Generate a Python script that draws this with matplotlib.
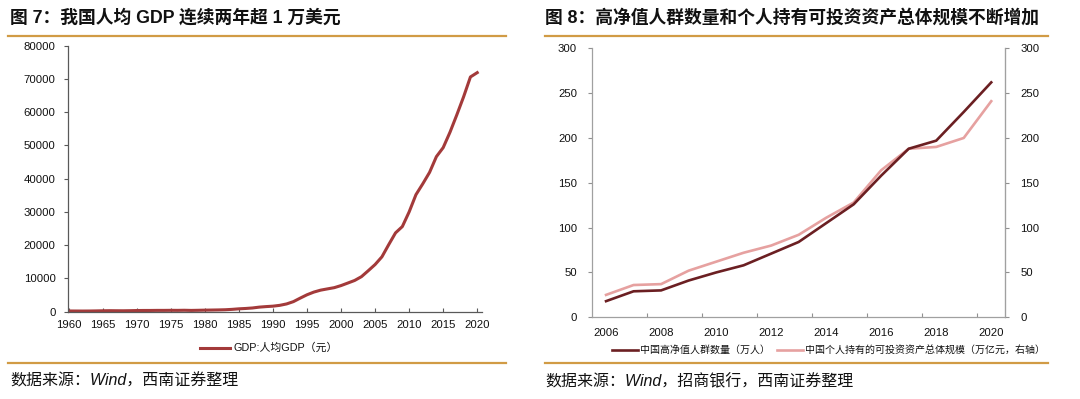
import matplotlib
matplotlib.use("Agg")
import matplotlib.pyplot as plt
from matplotlib.lines import Line2D
import numpy as np

plt.rcParams['font.family'] = ['Liberation Sans', 'Noto Sans CJK SC', 'DejaVu Sans']

# ---------------- data ----------------
gdp_years = list(range(1960, 2021))
gdp_per_capita = [218, 204, 196, 206, 236, 280, 306, 286, 276, 305,
                  349, 370, 373, 394, 394, 412, 401, 432, 385, 423,
                  468, 497, 533, 588, 702, 866, 973, 1123, 1378, 1536,
                  1663, 1912, 2334, 3027, 4081, 5091, 5898, 6481, 6860, 7229,
                  7858, 8622, 9398, 10542, 12336, 14185, 16500, 20169, 23708, 25608,
                  30015, 35198, 38459, 41908, 46629, 49351, 53980, 59201, 64644, 70600,
                  71900]
gdp_label = "GDP:人均GDP（元）"

hnw_years = list(range(2006, 2021))
hnw_count = [18, 29, 30, 41, 50, 58, 71, 84, 105, 126, 158, 188, 197, 229, 262]
invest_assets = [25, 36, 37, 52, 62, 72, 80, 92, 111, 128, 164, 188, 190, 200, 241]
hnw_label = "中国高净值人群数量（万人）"
assets_label = "中国个人持有的可投资资产总体规模（万亿元，右轴）"

title_left = "图 7：我国人均 GDP 连续两年超 1 万美元"
title_right = "图 8：高净值人群数量和个人持有可投资资产总体规模不断增加"
source_left = "数据来源：Wind，西南证券整理"
source_right = "数据来源：Wind，招商银行，西南证券整理"

# ---------------- figure ----------------
W, H = 1080, 399
fig = plt.figure(figsize=(W / 100, H / 100), dpi=100)
fig.patch.set_facecolor('white')

def fx(px):
    return px / W

def fy(py):
    return 1 - py / H

rule_color = '#D19B45'
tick_fs = 8.2

# titles
fig.text(fx(10), fy(18), title_left, fontsize=12.8, fontweight='bold',
         va='center', ha='left', color='#111111')
fig.text(fx(545), fy(18), title_right, fontsize=12.8, fontweight='bold',
         va='center', ha='left', color='#111111')

# rules
for (x0, x1) in [(8, 506), (545, 1048)]:
    for yy in (36, 363):
        fig.add_artist(Line2D([fx(x0), fx(x1)], [fy(yy), fy(yy)],
                              color=rule_color, lw=1.6, transform=fig.transFigure))

# sources
fig.text(fx(10), fy(381), source_left, fontsize=11.5, style='italic',
         va='center', ha='left', color='#111111')
fig.text(fx(545), fy(381), source_right, fontsize=11.5, style='italic',
         va='center', ha='left', color='#111111')

# ---------------- left chart ----------------
axL = fig.add_axes([fx(68), fy(311.7), fx(482 - 68), (311.7 - 45.7) / H])
axL.plot(gdp_years, gdp_per_capita, color='#A33A3A', lw=2.2, solid_joinstyle='round')
axL.set_xlim(1959.9, 2020.7)
axL.set_ylim(0, 80000)
axL.set_yticks(np.arange(0, 80001, 10000))
axL.set_xticks(np.arange(1960, 2021, 5))
for s in ('top', 'right'):
    axL.spines[s].set_visible(False)
for s in ('left', 'bottom'):
    axL.spines[s].set_color('#595959')
    axL.spines[s].set_linewidth(0.9)
axL.tick_params(axis='y', direction='out', length=3, width=0.8, color='#595959',
                labelsize=tick_fs, pad=6, labelcolor='#111111')
axL.tick_params(axis='x', direction='in', length=3, width=0.8, color='#595959',
                labelsize=tick_fs, pad=6, labelcolor='#111111')

# left legend
fig.add_artist(Line2D([fx(200), fx(230)], [fy(348), fy(348)], color='#A33A3A',
                      lw=2.2, transform=fig.transFigure))
fig.text(fx(233), fy(348), gdp_label, fontsize=7.8, va='center', ha='left',
         color='#111111')

# ---------------- right chart ----------------
axR = fig.add_axes([fx(592.3), fy(317.3), fx(1005 - 592.3), (317.3 - 48.3) / H])
xpos = np.arange(len(hnw_years))
axR.plot(xpos, invest_assets, color='#E6A1A0', lw=1.9)
axR.plot(xpos, hnw_count, color='#6B1F22', lw=1.9)
axR.set_xlim(-0.5, len(hnw_years) - 0.5)
axR.set_ylim(0, 300)
axR.set_yticks(np.arange(0, 301, 50))
major = [i for i, y in enumerate(hnw_years) if y % 2 == 0]
axR.set_xticks(major)
axR.set_xticklabels([str(hnw_years[i]) for i in major])
axR.set_xticks(np.arange(1.5, len(hnw_years) - 1, 2), minor=True)
axR.tick_params(axis='x', which='major', length=0, labelsize=tick_fs, pad=8,
                labelcolor='#111111')
axR.tick_params(axis='x', which='minor', direction='in', length=3, width=0.8,
                color='#909090')
axR.tick_params(axis='y', direction='out', length=3, width=0.8, color='#909090',
                labelsize=tick_fs, pad=8, labelcolor='#111111')
axR.spines['top'].set_visible(False)
for s in ('left', 'bottom', 'right'):
    axR.spines[s].set_color('#A0A0A0')
    axR.spines[s].set_linewidth(0.9)

axR2 = axR.twinx()
axR2.set_ylim(0, 300)
axR2.set_yticks(np.arange(0, 301, 50))
axR2.tick_params(axis='y', direction='out', length=3, width=0.8, color='#909090',
                 labelsize=tick_fs, pad=8, labelcolor='#111111')
for s in ('top', 'left', 'bottom'):
    axR2.spines[s].set_visible(False)
axR2.spines['right'].set_color('#A0A0A0')

# right legend
fig.add_artist(Line2D([fx(612), fx(638)], [fy(350), fy(350)], color='#6B1F22',
                      lw=1.9, transform=fig.transFigure))
fig.text(fx(640), fy(350), hnw_label, fontsize=7.2, va='center', ha='left',
         color='#111111')
fig.add_artist(Line2D([fx(777), fx(803)], [fy(350), fy(350)], color='#E6A1A0',
                      lw=1.9, transform=fig.transFigure))
fig.text(fx(805), fy(350), assets_label, fontsize=7.2, va='center', ha='left',
         color='#111111')

fig.savefig('out.png', dpi=100, facecolor='white')
